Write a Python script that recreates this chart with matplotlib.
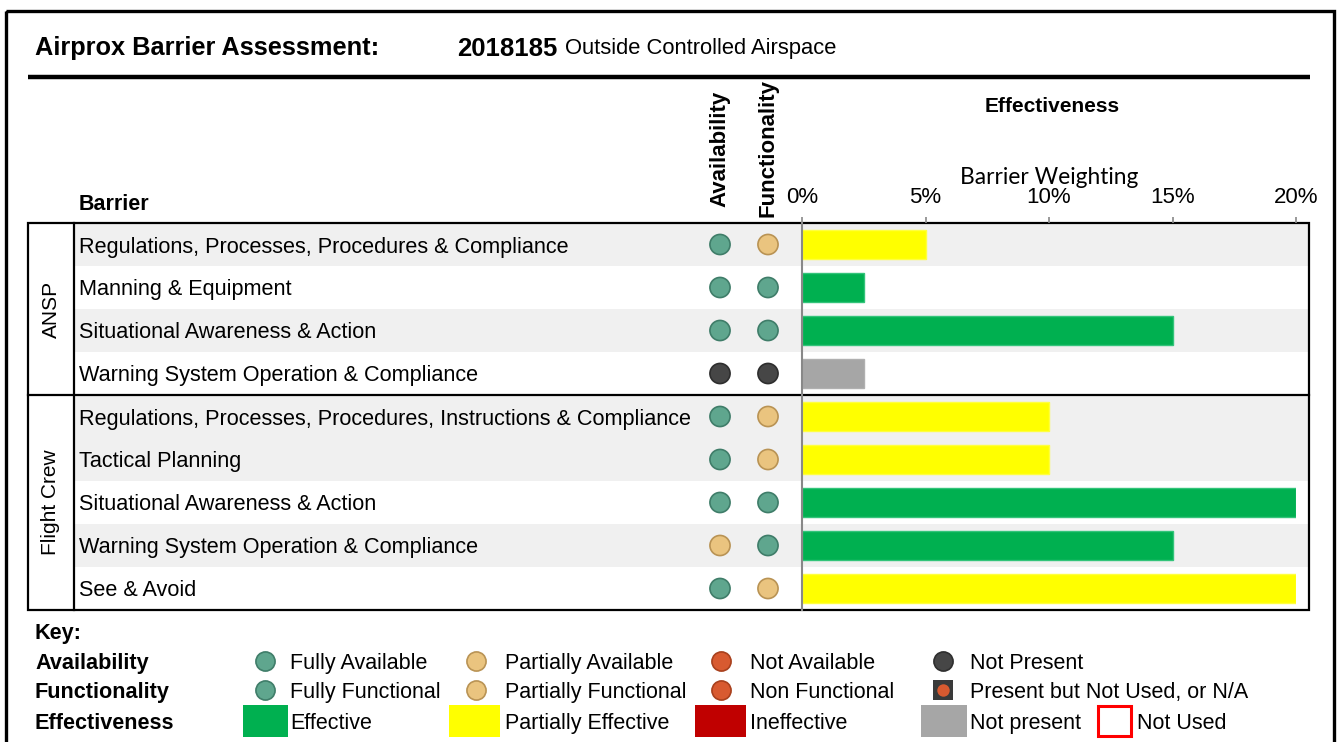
import matplotlib.pyplot as plt
from matplotlib.patches import Rectangle
from matplotlib.ticker import PercentFormatter

plt.rcParams['font.family'] = ['Liberation Sans', 'DejaVu Sans']

# data
groups = ['ANSP', 'Flight Crew']
group_sizes = [4, 5]
barriers = [
    'Regulations, Processes, Procedures & Compliance',
    'Manning & Equipment',
    'Situational Awareness & Action',
    'Warning System Operation & Compliance',
    'Regulations, Processes, Procedures, Instructions & Compliance',
    'Tactical Planning',
    'Situational Awareness & Action',
    'Warning System Operation & Compliance',
    'See & Avoid',
]
availability = ['full', 'full', 'full', 'none', 'full', 'full', 'full', 'partial', 'full']
functionality = ['partial', 'full', 'full', 'none', 'partial', 'partial', 'full', 'full', 'partial']
effectiveness = ['partial', 'effective', 'effective', 'not_present',
                 'partial', 'partial', 'effective', 'effective', 'partial']
weighting = [0.05, 0.025, 0.15, 0.025, 0.10, 0.10, 0.20, 0.15, 0.20]
weight_ticks = [0, 0.05, 0.10, 0.15, 0.20]
shaded = [True, False, True, False, True, True, False, True, False]

dot_face = {'full': '#5fa68e', 'partial': '#eac47f', 'not': '#d85a30', 'none': '#464646'}
dot_edge = {'full': '#3f7d69', 'partial': '#b99354', 'not': '#a8401d', 'none': '#2e2e2e'}
bar_face = {'effective': '#00b050', 'partial': '#ffff00', 'ineffective': '#c00000',
            'not_present': '#a6a6a6'}
bar_edge = {'effective': '#33c47a', 'partial': '#ffff40', 'ineffective': '#c00000',
            'not_present': '#b0b0b0'}

W, H = 1337, 742
fig = plt.figure(figsize=(W / 100, H / 100), dpi=100)

def px_rect(x0, x1, y0, y1):
    return [x0 / W, 1 - y1 / H, (x1 - x0) / W, (y1 - y0) / H]

# full-figure layer in pixel coordinates (frame, titles, key)
bg = fig.add_axes([0, 0, 1, 1])
bg.set_xlim(0, W)
bg.set_ylim(H, 0)
bg.axis('off')

bg.add_patch(Rectangle((6, 11), 1328, 760, fill=False, lw=2.4, ec='black', clip_on=False))
bg.plot([28, 1310], [77, 77], color='black', lw=3.2, solid_capstyle='butt')

bg.text(35, 46, 'Airprox Barrier Assessment:', fontsize=18.3, fontweight='bold', va='center_baseline')
bg.text(457, 46, '2018185', fontsize=18.5, fontweight='bold', va='center_baseline')
bg.text(565, 46, 'Outside Controlled Airspace', fontsize=15.8, va='center_baseline')

bg.text(79, 202, 'Barrier', fontsize=15.5, fontweight='bold', va='center_baseline')
bg.text(720, 207, 'Availability', fontsize=16, fontweight='bold', rotation=90,
        ha='center', va='bottom')
bg.text(768, 217, 'Functionality', fontsize=16, fontweight='bold', rotation=90,
        ha='center', va='bottom')
bg.text(1052, 105, 'Effectiveness', fontsize=15, fontweight='bold', ha='center', va='center_baseline')

# table body
n = len(barriers)
tab = fig.add_axes(px_rect(28, 1309, 223, 610))
tab.set_xlim(28, 1309)
tab.set_ylim(n - 0.5, -0.5)
tab.axis('off')

for i, s in enumerate(shaded):
    if s:
        tab.axhspan(i - 0.5, i + 0.5, xmin=(74 - 28) / (1309 - 28), xmax=1,
                    color='#f0f0f0', lw=0, zorder=0)

for i, label in enumerate(barriers):
    tab.text(79, i, label, fontsize=15.6, va='center_baseline')

rows = list(range(n))
tab.scatter([720] * n, rows, s=210, c=[dot_face[a] for a in availability],
            edgecolors=[dot_edge[a] for a in availability], linewidths=1.2, zorder=3)
tab.scatter([768] * n, rows, s=210, c=[dot_face[f] for f in functionality],
            edgecolors=[dot_edge[f] for f in functionality], linewidths=1.2, zorder=3)

start = 0
for g, size in zip(groups, group_sizes):
    tab.text(51, start + (size - 1) / 2, g, fontsize=15, rotation=90, ha='center', va='center')
    if start > 0:
        tab.plot([28, 1309], [start - 0.5, start - 0.5], color='black', lw=1.6, clip_on=False)
    start += size

tab.add_patch(Rectangle((28, -0.5), 1281, n, fill=False, ec='black', lw=1.6, clip_on=False))
tab.plot([74, 74], [-0.5, n - 0.5], color='black', lw=1.6, clip_on=False)

# effectiveness bars
bar = fig.add_axes(px_rect(802, 1296, 223, 610))
bar.set_facecolor('none')
bar.barh(rows, weighting, height=0.68,
         color=[bar_face[e] for e in effectiveness],
         edgecolor=[bar_edge[e] for e in effectiveness], linewidth=1)
bar.set_xlim(0, 0.20)
bar.set_ylim(n - 0.5, -0.5)
bar.set_yticks([])
bar.xaxis.tick_top()
bar.set_xticks(weight_ticks)
bar.xaxis.set_major_formatter(PercentFormatter(1.0, decimals=0))
bar.tick_params(axis='x', colors='#888888', length=4, width=1.2, pad=7,
                labelsize=16, labelcolor='black')
for side in ['right', 'bottom', 'top']:
    bar.spines[side].set_visible(False)
bar.spines['left'].set_color('#888888')
bar.spines['left'].set_linewidth(1.5)
bar.xaxis.set_label_position('top')
bar.set_xlabel('Barrier Weighting', fontsize=16.4, family=['Lato', 'DejaVu Sans'], labelpad=2)

# key
bg.text(35, 631, 'Key:', fontsize=15.6, fontweight='bold', va='center_baseline')
key_rows = [('Availability', 661), ('Functionality', 690), ('Effectiveness', 721)]
for lab, y in key_rows:
    bg.text(35, y, lab, fontsize=15.6, fontweight='bold', va='center_baseline')

avail_key = [('full', 'Fully Available'), ('partial', 'Partially Available'),
             ('not', 'Not Available'), ('none', 'Not Present')]
func_key = [('full', 'Fully Functional'), ('partial', 'Partially Functional'),
            ('not', 'Non Functional'), ('unused', 'Present but Not Used, or N/A')]
eff_key = [('effective', 'Effective'), ('partial', 'Partially Effective'),
           ('ineffective', 'Ineffective'), ('not_present', 'Not present'), ('unused', 'Not Used')]

dot_x = [265, 476, 721, 943]
text_x = [290, 505, 750, 970]
for (k, lab), dx, tx in zip(avail_key, dot_x, text_x):
    bg.scatter(dx, 661, s=190, c=dot_face[k], edgecolors=dot_edge[k], linewidths=1.2)
    bg.text(tx, 661, lab, fontsize=15.5, va='center_baseline')
for (k, lab), dx, tx in zip(func_key, dot_x, text_x):
    if k == 'unused':
        bg.scatter(dx, 690, s=200, marker='s', c='#3a3a3a', linewidths=0)
        bg.scatter(dx, 690, s=80, c=dot_face['not'], linewidths=0)
    else:
        bg.scatter(dx, 690, s=190, c=dot_face[k], edgecolors=dot_edge[k], linewidths=1.2)
    bg.text(tx, 690, lab, fontsize=15.5, va='center_baseline')

sw_x = [(243, 288), (449, 500), (695, 746), (921, 967), (1098, 1131)]
sw_text = [290, 505, 750, 970, 1137]
for (k, lab), (x0, x1), tx in zip(eff_key, sw_x, sw_text):
    if k == 'unused':
        bg.add_patch(Rectangle((x0, 706), x1 - x0, 30, fill=False, ec='#ff0000', lw=2.2))
    else:
        bg.add_patch(Rectangle((x0, 705), x1 - x0, 32, color=bar_face[k], lw=0))
    bg.text(tx, 721, lab, fontsize=15.5, va='center_baseline')

fig.savefig('out.png', dpi=100)
